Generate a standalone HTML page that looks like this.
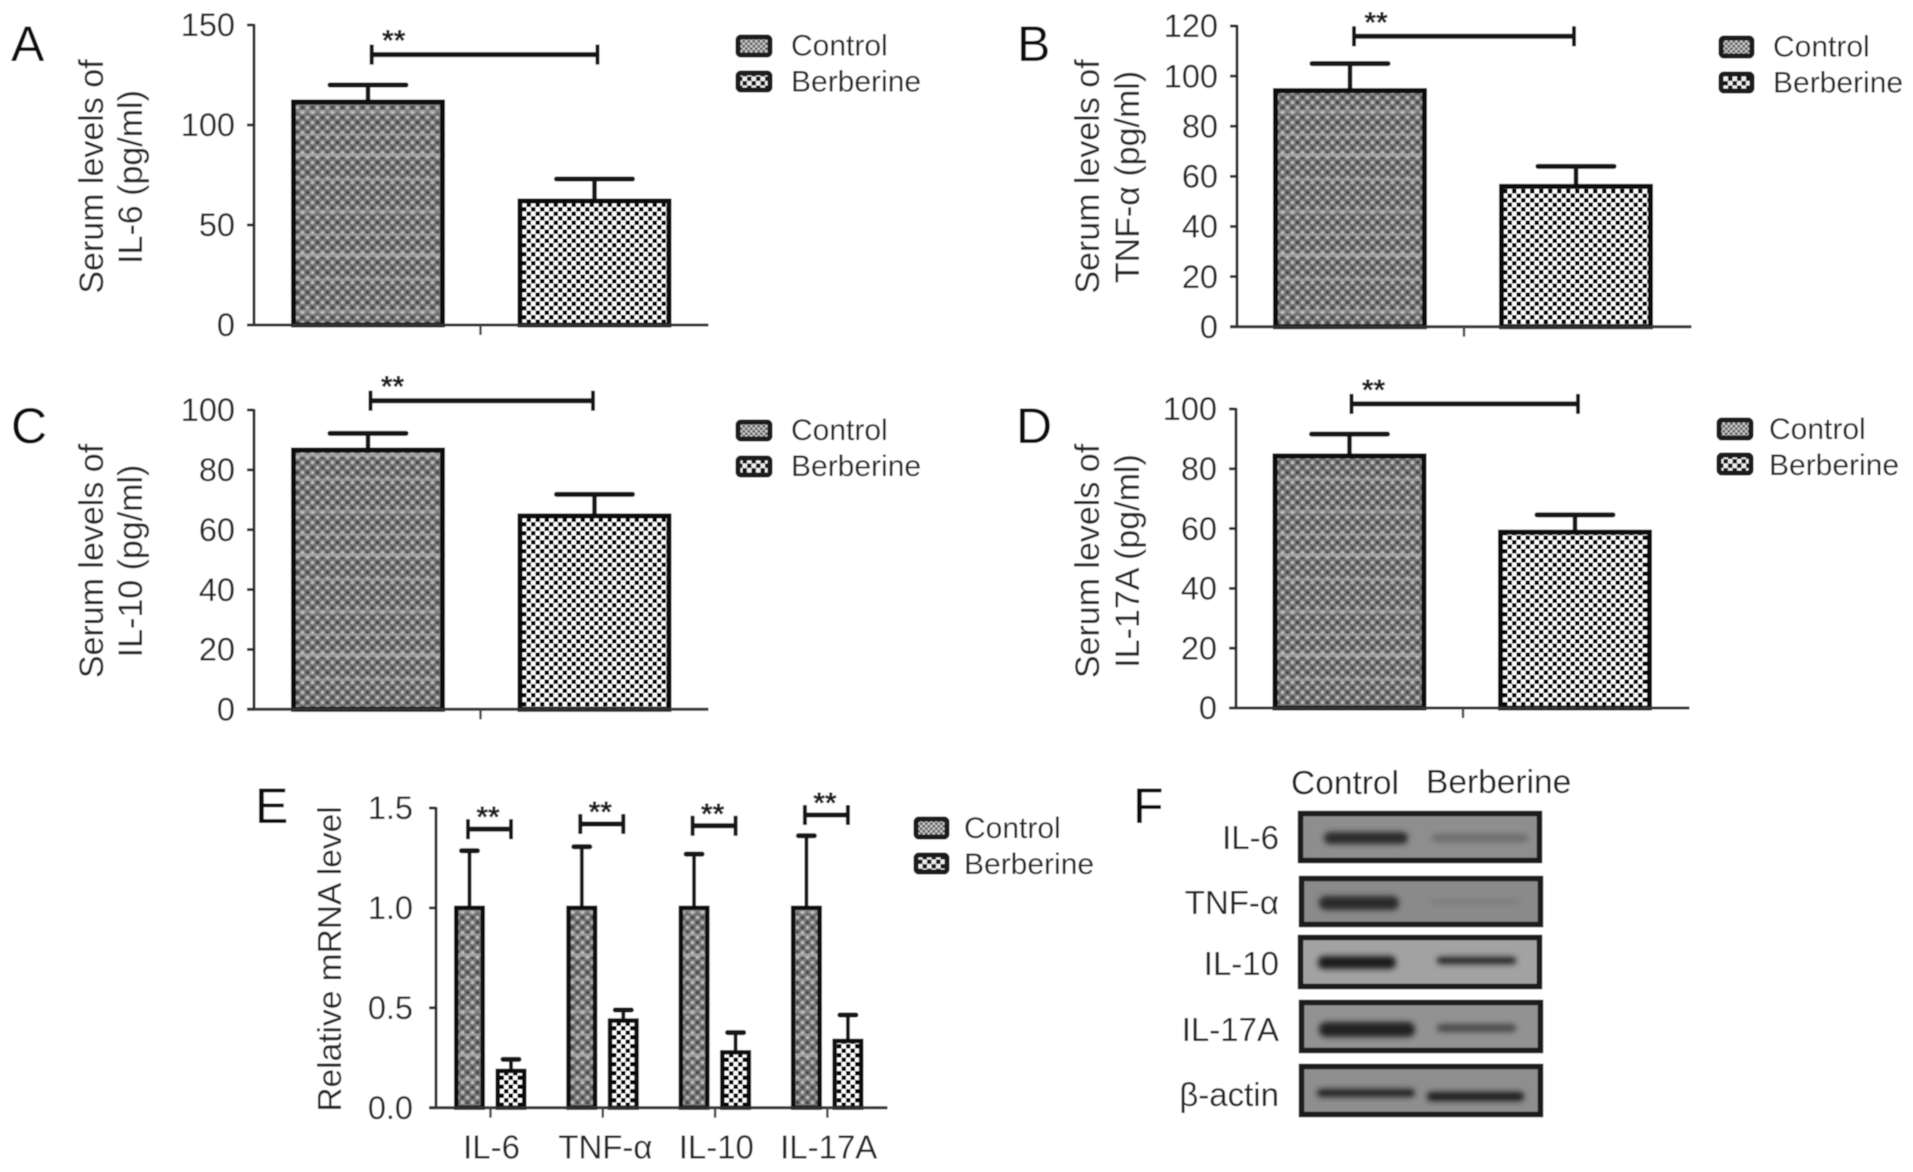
<!DOCTYPE html>
<html lang="en">
<head>
<meta charset="utf-8">
<title>Serum cytokine levels and expression in Control and Berberine groups</title>
<style>
html,body{margin:0;padding:0;background:#fff;width:1913px;height:1172px;overflow:hidden}
svg{display:block}
text{font-family:"Liberation Sans",sans-serif;fill:#222}
.letter{font-size:50px;fill:#111}
.ytitle{font-size:34px;text-anchor:middle;fill:#262626}
.legend{font-size:30px;fill:#262626}
.blot-label{font-size:33px;text-anchor:end;fill:#262626}
.tick-label{font-size:32.5px;text-anchor:end;fill:#262626}
.x-label{font-size:33px;text-anchor:middle;fill:#262626}
.stars{font-size:30px;font-weight:bold;text-anchor:middle;fill:#1a1a1a}
</style>
</head>
<body>
<svg id="figure" xmlns="http://www.w3.org/2000/svg" width="1913" height="1172" viewBox="0 0 1913 1172">
<defs>
  <filter id="soft" x="0" y="0" width="100%" height="100%"><feGaussianBlur stdDeviation="0.65"/></filter>
  <filter id="band-blur" x="-20%" y="-80%" width="140%" height="260%"><feGaussianBlur stdDeviation="2.8"/></filter>
  <pattern id="p-dots" patternUnits="userSpaceOnUse" width="10" height="10">
    <rect width="10" height="10" fill="#767676"/>
    <rect x="1" y="1" width="3" height="3" fill="#bcbcbc"/>
    <rect x="6" y="6" width="3" height="3" fill="#bcbcbc"/>
    <rect x="6" y="1" width="3" height="3" fill="#444"/>
    <rect x="1" y="6" width="3" height="3" fill="#444"/>
  </pattern>
  <pattern id="p-control" patternUnits="userSpaceOnUse" width="10" height="100">
    <rect width="10" height="100" fill="url(#p-dots)"/>
    <rect y="10" width="10" height="3.5" fill="#c4c4c4" opacity=".4"/>
    <rect y="33" width="10" height="3" fill="#c4c4c4" opacity=".35"/>
    <rect y="53" width="10" height="4" fill="#cccccc" opacity=".45"/>
    <rect y="78" width="10" height="3" fill="#c4c4c4" opacity=".35"/>
  </pattern>
  <pattern id="p-berberine" patternUnits="userSpaceOnUse" width="9" height="9">
    <rect width="9" height="9" fill="#fff"/>
    <rect x="0" y="0" width="4.5" height="4.5" fill="#000"/>
    <rect x="4.5" y="4.5" width="4.5" height="4.5" fill="#000"/>
  </pattern>
  <pattern id="p-legend-control" patternUnits="userSpaceOnUse" width="5" height="5">
    <rect width="5" height="5" fill="#5a5a5a"/>
    <rect x="0" y="0" width="2.5" height="2.5" fill="#c8c8c8"/>
    <rect x="2.5" y="2.5" width="2.5" height="2.5" fill="#c8c8c8"/>
  </pattern>
  <pattern id="p-legend-berberine" patternUnits="userSpaceOnUse" width="9" height="9">
    <rect width="9" height="9" fill="#151515"/>
    <rect x="0" y="0" width="4.5" height="4.5" fill="#eee"/>
    <rect x="4.5" y="4.5" width="4.5" height="4.5" fill="#eee"/>
  </pattern>
</defs>
<g filter="url(#soft)">
  <rect width="1913" height="1172" fill="#fff"/>

  <!-- Panel A -->
  <g id="panel-a">
    <text class="letter" x="11" y="61">A</text>
    <text class="ytitle" transform="translate(103 176.5) rotate(-90)">Serum levels of</text>
    <text class="ytitle" transform="translate(142 177) rotate(-90)">IL-6 (pg/ml)</text>
    <g>
      <rect x="738" y="37" width="32" height="18" rx="3" fill="url(#p-legend-control)" stroke="#1c1c1c" stroke-width="5"/>
      <text class="legend" x="791" y="55.5">Control</text>
      <rect x="738" y="73" width="32" height="17" rx="3" fill="url(#p-legend-berberine)" stroke="#1c1c1c" stroke-width="5"/>
      <text class="legend" x="791" y="91.5">Berberine</text>
    </g>
  </g>

  <!-- Panel B -->
  <g id="panel-b">
    <text class="letter" x="1017" y="61">B</text>
    <text class="ytitle" transform="translate(1099 176.5) rotate(-90)">Serum levels of</text>
    <text class="ytitle" transform="translate(1139 177) rotate(-90)">TNF-α (pg/ml)</text>
    <g>
      <rect x="1721" y="38" width="31" height="18" rx="3" fill="url(#p-legend-control)" stroke="#1c1c1c" stroke-width="5"/>
      <text class="legend" x="1773" y="56.5">Control</text>
      <rect x="1721" y="74" width="31" height="17" rx="3" fill="url(#p-legend-berberine)" stroke="#1c1c1c" stroke-width="5"/>
      <text class="legend" x="1773" y="92.5">Berberine</text>
    </g>
  </g>

  <!-- Panel C -->
  <g id="panel-c">
    <text class="letter" x="11" y="443">C</text>
    <text class="ytitle" transform="translate(103 561) rotate(-90)">Serum levels of</text>
    <text class="ytitle" transform="translate(142 561) rotate(-90)">IL-10 (pg/ml)</text>
    <g>
      <rect x="738" y="422" width="32" height="17" rx="3" fill="url(#p-legend-control)" stroke="#1c1c1c" stroke-width="5"/>
      <text class="legend" x="791" y="440">Control</text>
      <rect x="738" y="458" width="32" height="17" rx="3" fill="url(#p-legend-berberine)" stroke="#1c1c1c" stroke-width="5"/>
      <text class="legend" x="791" y="476">Berberine</text>
    </g>
  </g>

  <!-- Panel D -->
  <g id="panel-d">
    <text class="letter" x="1016" y="443">D</text>
    <text class="ytitle" transform="translate(1099 561) rotate(-90)">Serum levels of</text>
    <text class="ytitle" transform="translate(1139 561) rotate(-90)">IL-17A (pg/ml)</text>
    <g>
      <rect x="1719" y="420" width="32" height="18" rx="3" fill="url(#p-legend-control)" stroke="#1c1c1c" stroke-width="5"/>
      <text class="legend" x="1769" y="439">Control</text>
      <rect x="1719" y="455" width="32" height="18" rx="3" fill="url(#p-legend-berberine)" stroke="#1c1c1c" stroke-width="5"/>
      <text class="legend" x="1769" y="475">Berberine</text>
    </g>
  </g>

  <!-- Panel E -->
  <g id="panel-e">
    <text class="letter" x="255" y="823">E</text>
    <text class="ytitle" transform="translate(341 959) rotate(-90)" style="font-size:33.5px">Relative mRNA level</text>
    <g>
      <rect x="916" y="819" width="31" height="18" rx="3" fill="url(#p-legend-control)" stroke="#1c1c1c" stroke-width="5"/>
      <text class="legend" x="964" y="838">Control</text>
      <rect x="916" y="855" width="31" height="17" rx="3" fill="url(#p-legend-berberine)" stroke="#1c1c1c" stroke-width="5"/>
      <text class="legend" x="964" y="874">Berberine</text>
    </g>
  </g>

  <!-- Panel F: western blot -->
  <g id="panel-f">
    <text class="letter" x="1133" y="823">F</text>
    <text x="1291" y="794" style="font-size:33.5px">Control</text>
    <text x="1426" y="793" style="font-size:33.5px">Berberine</text>

    <text class="blot-label" x="1279" y="849">IL-6</text>
    <text class="blot-label" x="1279" y="914">TNF-α</text>
    <text class="blot-label" x="1279" y="975">IL-10</text>
    <text class="blot-label" x="1279" y="1041">IL-17A</text>
    <text class="blot-label" x="1279" y="1106">β-actin</text>

    <g>
      <rect x="1300.5" y="813.5" width="239" height="47" fill="#8e8e8e" stroke="#1d1d1d" stroke-width="5.5"/>
      <rect x="1324" y="832" width="84" height="12" rx="6" fill="#2c2c2c" filter="url(#band-blur)"/>
      <rect x="1432" y="834" width="96" height="8" rx="4" fill="#6c6c6c" filter="url(#band-blur)"/>
    </g>
    <g>
      <rect x="1301.5" y="878.5" width="239" height="46" fill="#8a8a8a" stroke="#1d1d1d" stroke-width="5.5"/>
      <rect x="1319" y="896" width="80" height="14" rx="7" fill="#2a2a2a" filter="url(#band-blur)"/>
      <rect x="1430" y="899" width="90" height="6" rx="3" fill="#7e7e7e" filter="url(#band-blur)"/>
    </g>
    <g>
      <rect x="1300.5" y="937.5" width="239" height="49" fill="#a2a2a2" stroke="#1d1d1d" stroke-width="5.5"/>
      <rect x="1318" y="956" width="78" height="13" rx="6" fill="#1a1a1a" filter="url(#band-blur)"/>
      <rect x="1437" y="957" width="79" height="7" rx="3" fill="#242424" filter="url(#band-blur)"/>
    </g>
    <g>
      <rect x="1301.5" y="1002.5" width="239" height="48" fill="#929292" stroke="#1d1d1d" stroke-width="5.5"/>
      <rect x="1319" y="1022" width="96" height="15" rx="7" fill="#242424" filter="url(#band-blur)"/>
      <rect x="1437" y="1024" width="79" height="8" rx="4" fill="#484848" filter="url(#band-blur)"/>
    </g>
    <g>
      <rect x="1301.5" y="1066.5" width="239" height="48" fill="#8e8e8e" stroke="#1d1d1d" stroke-width="5.5"/>
      <rect x="1317" y="1089" width="98" height="8" rx="4" fill="#242424" filter="url(#band-blur)"/>
      <rect x="1427" y="1092" width="97" height="9" rx="4" fill="#1c1c1c" filter="url(#band-blur)"/>
    </g>
  </g>
</g>
</svg>
<script>
// Panel A: serum IL-6
const panelACategories = ['IL-6'];
const panelATicks = [0, 50, 100, 150];
const panelATickLabels = ['0', '50', '100', '150'];
const panelAControl = [111.5];
const panelAControlUpper = [120];
const panelABerberine = [62];
const panelABerberineUpper = [73];
const panelASignificance = [135.2];

// Panel B: serum TNF-alpha
const panelBCategories = ['TNF-α'];
const panelBTicks = [0, 20, 40, 60, 80, 100, 120];
const panelBTickLabels = ['0', '20', '40', '60', '80', '100', '120'];
const panelBControl = [94.2];
const panelBControlUpper = [105];
const panelBBerberine = [56];
const panelBBerberineUpper = [64];
const panelBSignificance = [115.9];

// Panel C: serum IL-10
const panelCCategories = ['IL-10'];
const panelCTicks = [0, 20, 40, 60, 80, 100];
const panelCTickLabels = ['0', '20', '40', '60', '80', '100'];
const panelCControl = [86.6];
const panelCControlUpper = [92.2];
const panelCBerberine = [64.6];
const panelCBerberineUpper = [71.8];
const panelCSignificance = [103.1];

// Panel D: serum IL-17A
const panelDCategories = ['IL-17A'];
const panelDTicks = [0, 20, 40, 60, 80, 100];
const panelDTickLabels = ['0', '20', '40', '60', '80', '100'];
const panelDControl = [84.3];
const panelDControlUpper = [91.6];
const panelDBerberine = [58.8];
const panelDBerberineUpper = [64.6];
const panelDSignificance = [101.7];

// Panel E: relative mRNA level
const panelECategories = ['IL-6', 'TNF-α', 'IL-10', 'IL-17A'];
const panelETicks = [0, 0.5, 1, 1.5];
const panelETickLabels = ['0.0', '0.5', '1.0', '1.5'];
const panelEControl = [1, 1, 1, 1];
const panelEControlUpper = [1.286, 1.306, 1.269, 1.361];
const panelEBerberine = [0.184, 0.436, 0.277, 0.334];
const panelEBerberineUpper = [0.242, 0.489, 0.376, 0.464];
const panelESignificance = [1.394, 1.42, 1.411, 1.465];
const significanceLabel = '**';

const SVG_NS = 'http://www.w3.org/2000/svg';
const INK = '#161616';

function mk(parent, tag, attrs) {
  const el = document.createElementNS(SVG_NS, tag);
  for (const key in attrs) {
    el.setAttribute(key, attrs[key]);
  }
  parent.appendChild(el);
  return el;
}

function drawPanel(panelId, layout, d) {
  const root = document.getElementById(panelId);
  const top = d.ticks[d.ticks.length - 1];
  const y = v => layout.y0 - (v / top) * (layout.y0 - layout.yTop);
  const groupX = i => layout.firstTick + i * layout.tickStep;
  const seriesX = (i, s) => groupX(i) + (s === 0 ? layout.offsetControl : layout.offsetBerberine);

  // bars and error bars first, axes on top
  const series = [
    { values: d.control, upper: d.controlUpper, fill: 'url(#p-control)' },
    { values: d.berberine, upper: d.berberineUpper, fill: 'url(#p-berberine)' }
  ];
  series.forEach((ser, s) => {
    ser.values.forEach((value, i) => {
      const cx = seriesX(i, s);
      const stem = mk(root, 'line', { x1: cx, x2: cx, y1: y(value), y2: y(ser.upper[i]), stroke: INK, 'stroke-width': layout.stemWidth });
      
      
      const cap = mk(root, 'line', { x1: cx - layout.capHalf, x2: cx + layout.capHalf, y1: y(ser.upper[i]), y2: y(ser.upper[i]), stroke: INK, 'stroke-width': 5, 'stroke-linecap': 'round' });
      
      
      const inner = layout.barWidth - layout.barStroke;
      const bar = mk(root, 'rect', { x: cx - inner / 2, y: y(value), width: inner, height: layout.y0 - y(value), fill: ser.fill, stroke: '#111', 'stroke-width': layout.barStroke });
      
      
    });
  });

  // y axis
  const yAxis = mk(root, 'line', { x1: layout.axisX, x2: layout.axisX, y1: y(top) - 1, y2: layout.y0, stroke: '#2c2c2c', 'stroke-width': 2.8 });
  
  
  d.ticks.forEach((t, i) => {
    const mark = mk(root, 'line', { x1: layout.axisX - 7, x2: layout.axisX, y1: y(t), y2: y(t), stroke: '#2c2c2c', 'stroke-width': 2.8 });
    
    
    const lab = mk(root, 'text', { class: 'tick-label', x: layout.labelX, y: y(t) + 11.2 });
    
    
    lab.textContent = d.tickLabels[i];
  });

  // x axis
  const xAxis = mk(root, 'line', { x1: layout.axisX - 7, x2: layout.xEnd, y1: layout.y0, y2: layout.y0, stroke: '#333', 'stroke-width': 3 });
  
  
  d.categories.forEach((cat, i) => {
    const mark = mk(root, 'line', { x1: groupX(i), x2: groupX(i), y1: layout.y0, y2: layout.y0 + 10, stroke: '#444', 'stroke-width': 2.4 });
    
    
    if (layout.showCategories) {
      const lab = mk(root, 'text', { class: 'x-label', x: groupX(i) + (layout.labelNudge[i] || 0), y: layout.y0 + 51 });
      
      
      lab.textContent = cat;
    }
  });

  // significance brackets
  d.significance.forEach((value, i) => {
    const left = seriesX(i, 0) + layout.sigLeft;
    const right = seriesX(i, 1) + layout.sigRight;
    const sy = y(value);
    const span = mk(root, 'line', { x1: left, x2: right, y1: sy, y2: sy, stroke: INK, 'stroke-width': 5 });
    
    
    const capL = mk(root, 'line', { x1: left, x2: left, y1: sy - 10, y2: sy + 10, stroke: INK, 'stroke-width': 4 });
    
    
    const capR = mk(root, 'line', { x1: right, x2: right, y1: sy - 10, y2: sy + 10, stroke: INK, 'stroke-width': 4 });
    
    
    const star = mk(root, 'text', { class: 'stars', x: left + layout.starDx, y: sy - layout.starDy + 12.5 });
    
    
    star.textContent = significanceLabel;
  });
}

const largeBars = { tickStep: 0, barWidth: 154, barStroke: 5, capHalf: 38, stemWidth: 4.5, starDx: 22, starDy: 16.5, showCategories: false, labelNudge: [] };

drawPanel('panel-a', Object.assign({}, largeBars, { axisX: 254, labelX: 235, xEnd: 708.5, y0: 325, yTop: 25, firstTick: 480.5, offsetControl: -112.5, offsetBerberine: 114, sigLeft: 3.7, sigRight: 3 }), {
  categories: panelACategories, ticks: panelATicks, tickLabels: panelATickLabels,
  control: panelAControl, controlUpper: panelAControlUpper,
  berberine: panelABerberine, berberineUpper: panelABerberineUpper, significance: panelASignificance
});
drawPanel('panel-b', Object.assign({}, largeBars, { axisX: 1237, labelX: 1218, xEnd: 1691.5, y0: 326.7, yTop: 26, firstTick: 1464, offsetControl: -114, offsetBerberine: 112, sigLeft: 4, sigRight: -2 }), {
  categories: panelBCategories, ticks: panelBTicks, tickLabels: panelBTickLabels,
  control: panelBControl, controlUpper: panelBControlUpper,
  berberine: panelBBerberine, berberineUpper: panelBBerberineUpper, significance: panelBSignificance
});
drawPanel('panel-c', Object.assign({}, largeBars, { axisX: 254, labelX: 235, xEnd: 708.5, y0: 709.3, yTop: 410, firstTick: 480.5, offsetControl: -112.5, offsetBerberine: 114, sigLeft: 2.5, sigRight: -1.5 }), {
  categories: panelCCategories, ticks: panelCTicks, tickLabels: panelCTickLabels,
  control: panelCControl, controlUpper: panelCControlUpper,
  berberine: panelCBerberine, berberineUpper: panelCBerberineUpper, significance: panelCSignificance
});
drawPanel('panel-d', Object.assign({}, largeBars, { axisX: 1236, labelX: 1217, xEnd: 1689.5, y0: 708, yTop: 409, firstTick: 1463, offsetControl: -113.5, offsetBerberine: 112, sigLeft: 2, sigRight: 3 }), {
  categories: panelDCategories, ticks: panelDTicks, tickLabels: panelDTickLabels,
  control: panelDControl, controlUpper: panelDControlUpper,
  berberine: panelDBerberine, berberineUpper: panelDBerberineUpper, significance: panelDSignificance
});
drawPanel('panel-e', { axisX: 436, labelX: 413, xEnd: 887.5, y0: 1107.7, yTop: 808, firstTick: 490.5, tickStep: 112.3, offsetControl: -21, offsetBerberine: 20.5, barWidth: 31, barStroke: 4.5, capHalf: 8, stemWidth: 3.8, sigLeft: -1.5, sigRight: 0, starDx: 20, starDy: 14.5, showCategories: true, labelNudge: [1, 2.6, 1.2, 1.3] }, {
  categories: panelECategories, ticks: panelETicks, tickLabels: panelETickLabels,
  control: panelEControl, controlUpper: panelEControlUpper,
  berberine: panelEBerberine, berberineUpper: panelEBerberineUpper, significance: panelESignificance
});
</script>
</body>
</html>
